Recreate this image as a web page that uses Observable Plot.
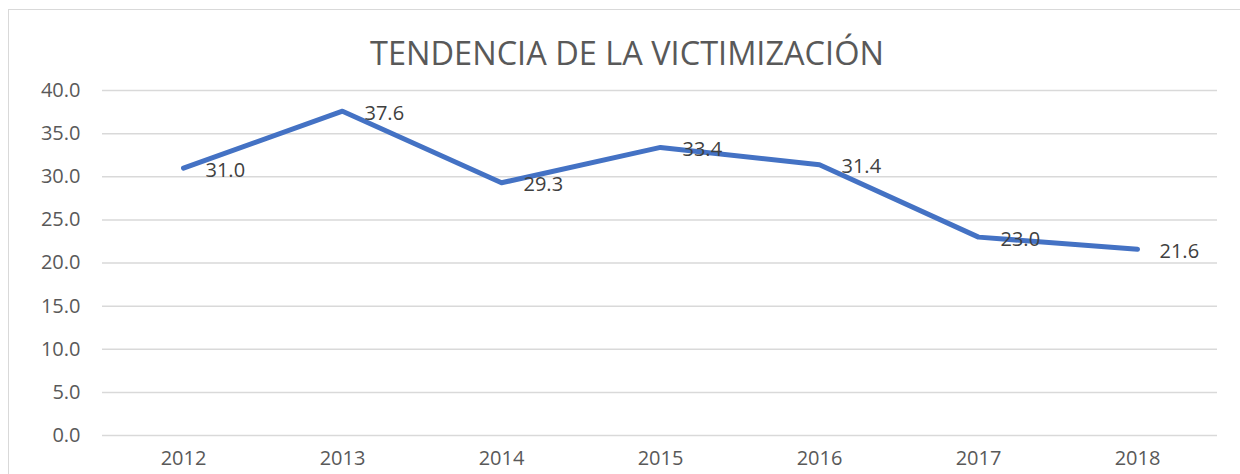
<!DOCTYPE html>
<html>
<head>
<meta charset="utf-8">
<script src="https://cdn.jsdelivr.net/npm/d3@7"></script>
<script src="https://cdn.jsdelivr.net/npm/@observablehq/plot@0.6"></script>
<style>
  html, body { margin: 0; padding: 0; background: #fff; overflow: hidden; }
  #frame { position: absolute; left: 8px; top: 9px; width: 1300px; height: 520px;
           border-left: 1.5px solid #d9d9d9; border-top: 1.5px solid #d9d9d9; }
  #title { position: absolute; left: 0; top: 30px; width: 1254px; text-align: center;
           font-family: "Open Sans", sans-serif; font-size: 32.5px; color: #595959; }
  #chart { position: absolute; left: 0; top: 60px; }
</style>
</head>
<body>
<div id="frame"></div>
<div id="title">TENDENCIA DE LA VICTIMIZACIÓN</div>
<div id="chart"></div>
<script>
const years = ["2012", "2013", "2014", "2015", "2016", "2017", "2018"];
const values = [31.0, 37.6, 29.3, 33.4, 31.4, 23.0, 21.6];
const yTicks = [0, 5, 10, 15, 20, 25, 30, 35, 40];

const data = years.map((y, i) => ({year: y, value: values[i]}));

const chart = Plot.plot({
  width: 1240,
  height: 414,
  marginTop: 30,
  marginBottom: 39,
  marginLeft: 102,
  marginRight: 23,
  style: {fontFamily: "Open Sans, sans-serif", fontSize: "20px", color: "#595959", background: "transparent"},
  x: {type: "point", domain: years, padding: 0.5, label: null},
  y: {domain: [0, 40], label: null},
  marks: [
    Plot.ruleY(yTicks, {stroke: "#d9d9d9", strokeWidth: 1.5}),
    Plot.axisY({ticks: yTicks, tickSize: 0, tickPadding: 22, tickFormat: d => d.toFixed(1), fill: "#595959", fontSize: 20}),
    Plot.axisX({tickSize: 0, tickPadding: 15, fill: "#595959", fontSize: 20}),
    Plot.line(data, {x: "year", y: "value", stroke: "#4472C4", strokeWidth: 5, strokeLinejoin: "round", strokeLinecap: "round"}),
    Plot.text(data, {x: "year", y: "value", text: d => d.value.toFixed(1), textAnchor: "start", dx: 22, dy: 2, fill: "#404040", fontSize: 20})
  ]
});
document.getElementById("chart").appendChild(chart);
</script>
</body>
</html>
